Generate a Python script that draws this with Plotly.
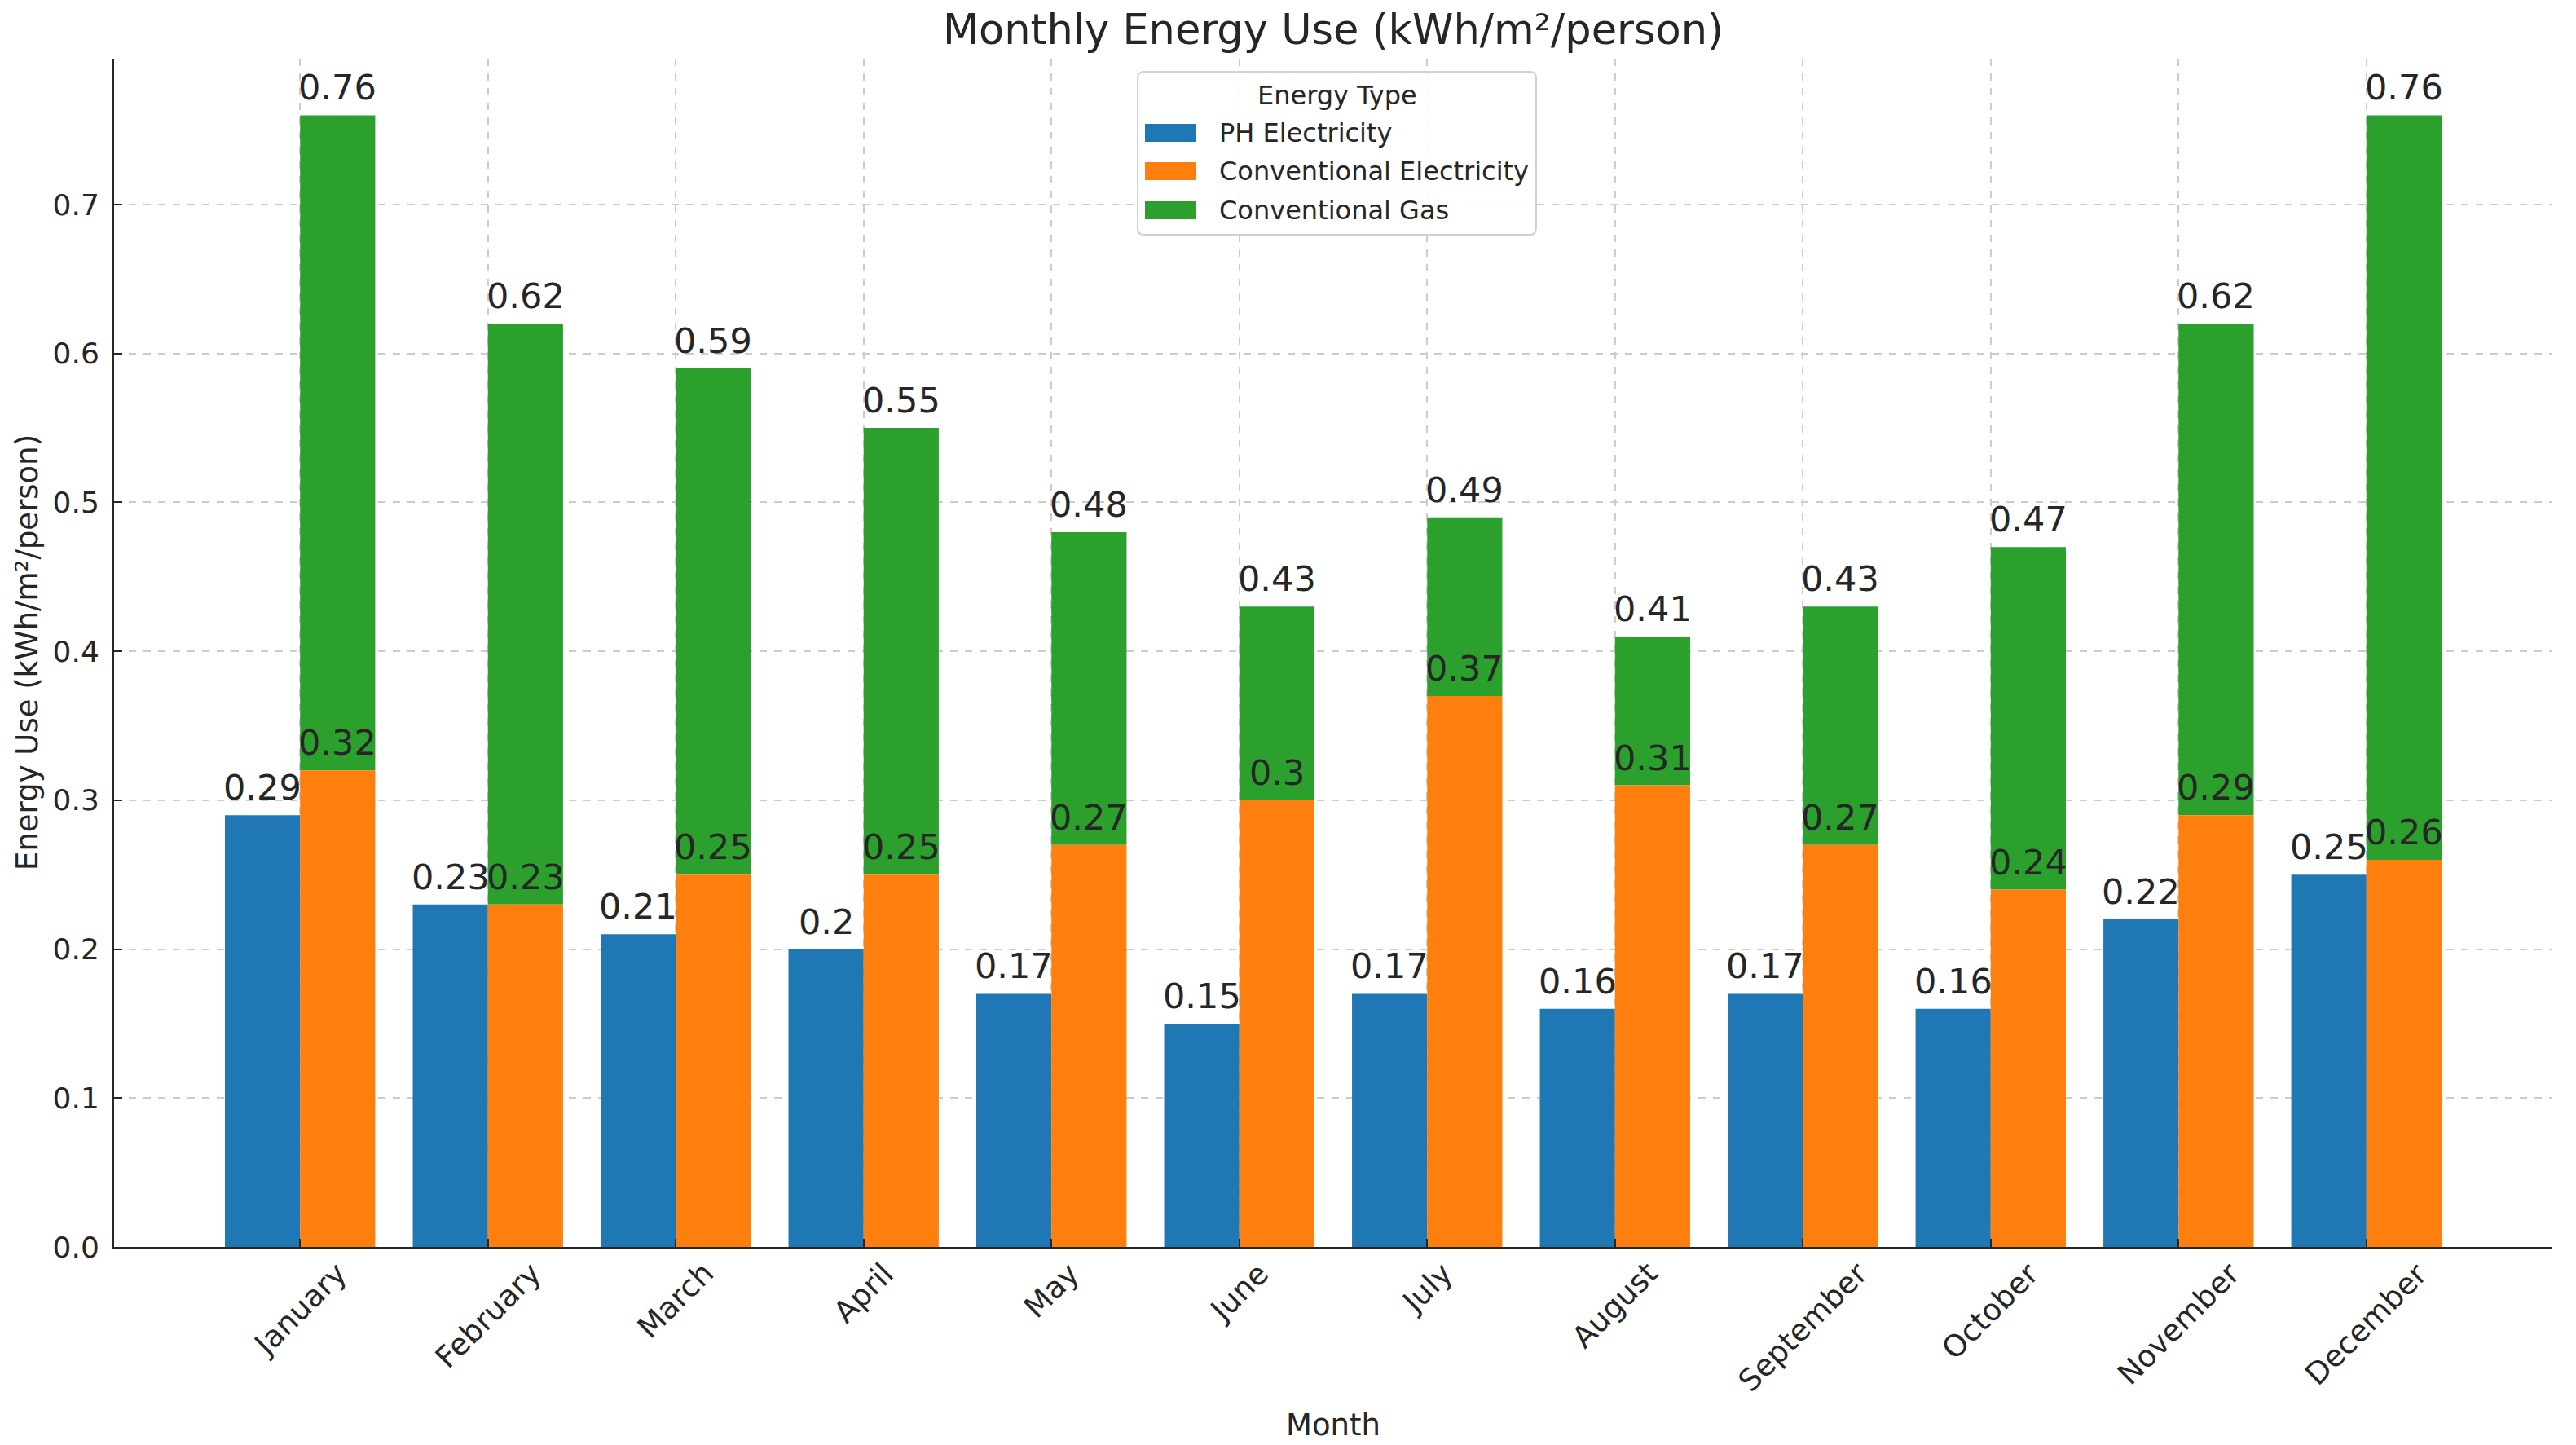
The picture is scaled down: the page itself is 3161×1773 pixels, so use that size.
import plotly.graph_objects as go

# ---------------- data ----------------
months = ["January", "February", "March", "April", "May", "June",
          "July", "August", "September", "October", "November", "December"]
ph_electricity = [0.29, 0.23, 0.21, 0.20, 0.17, 0.15, 0.17, 0.16, 0.17, 0.16, 0.22, 0.25]
conv_electricity = [0.32, 0.23, 0.25, 0.25, 0.27, 0.30, 0.37, 0.31, 0.27, 0.24, 0.29, 0.26]
conv_gas = [0.44, 0.39, 0.34, 0.30, 0.21, 0.13, 0.12, 0.10, 0.16, 0.23, 0.33, 0.50]
y_ticks = [0.0, 0.1, 0.2, 0.3, 0.4, 0.5, 0.6, 0.7]

series_names = ["PH Electricity", "Conventional Electricity", "Conventional Gas"]
colors = ["#1f77b4", "#ff7f0e", "#2ca02c"]

# ---------------- layout geometry ----------------
W, H = 3161, 1773
OFF = 8  # page offset of the figure (body margin)
ML, MT = 140 - OFF, 72 - OFF
MR = W - (3132 - OFF)
MB = H - (1530 - OFF)
PW, PH = W - ML - MR, H - MT - MB
X_RANGE = [-0.99, 11.99]
BAR_W = 0.4
HALF_BAR_PX = (BAR_W / 2) * PW / (X_RANGE[1] - X_RANGE[0])
FONT = "DejaVu Sans"
TXT = "#262626"


def fmt(v):
    return f"{round(v, 6):g}"


def px(x):  # page pixel -> paper x
    return (x - OFF - ML) / PW


def py(y):  # page pixel -> paper y
    return (MT + PH - (y - OFF)) / PH


fig = go.Figure()

gas_top = [e + g for e, g in zip(conv_electricity, conv_gas)]

fig.add_trace(go.Bar(
    x=months, y=ph_electricity, name=series_names[0], width=BAR_W, offset=-BAR_W,
    marker=dict(color=colors[0], line=dict(width=0)),
))
fig.add_trace(go.Bar(
    x=months, y=conv_gas, base=conv_electricity, name=series_names[2], width=BAR_W, offset=0,
    marker=dict(color=colors[2], line=dict(width=0)),
))
fig.add_trace(go.Bar(
    x=months, y=conv_electricity, name=series_names[1], width=BAR_W, offset=0,
    marker=dict(color=colors[1], line=dict(width=0)),
))

annotations = []
label_font = dict(size=43, color=TXT, family=FONT)
# value labels on the bar ends
for vals, shift in ((ph_electricity, -HALF_BAR_PX), (gas_top, HALF_BAR_PX),
                    (conv_electricity, HALF_BAR_PX)):
    for m, v in zip(months, vals):
        annotations.append(dict(
            x=m, xref="x", y=v, yref="y", xanchor="center", yanchor="bottom",
            xshift=shift, yshift=7, showarrow=False, text=fmt(v), font=label_font,
        ))

# month tick labels, rotated 45 degrees, centred under each tick
for m in months:
    annotations.append(dict(
        x=m, xref="x", y=0, yref="paper", xanchor="center", yanchor="top",
        yshift=-8, textangle=-45, showarrow=False, text=m,
        font=dict(size=37, color=TXT, family=FONT),
    ))
# axis titles
annotations.append(dict(
    x=0.5, xref="paper", y=0, yref="paper", xanchor="center", yanchor="middle",
    yshift=-218, showarrow=False, text="Month",
    font=dict(size=37, color=TXT, family=FONT),
))
annotations.append(dict(
    x=0, xref="paper", y=0.5, yref="paper", xanchor="center", yanchor="middle",
    xshift=-(140 - 33), textangle=-90, showarrow=False,
    text="Energy Use (kWh/m²/person)",
    font=dict(size=37, color=TXT, family=FONT),
))

# ---------------- legend (drawn to match the reference style) ----------------
LX0, LX1, LY0, LY1 = 1396, 1885, 88, 288
r = 8
rx, ry = r / PW, r / PH
x0, x1, y0, y1 = px(LX0), px(LX1), py(LY1), py(LY0)
path = (f"M{x0 + rx},{y0} L{x1 - rx},{y0} Q{x1},{y0} {x1},{y0 + ry} "
        f"L{x1},{y1 - ry} Q{x1},{y1} {x1 - rx},{y1} L{x0 + rx},{y1} "
        f"Q{x0},{y1} {x0},{y1 - ry} L{x0},{y0 + ry} Q{x0},{y0} {x0 + rx},{y0} Z")
shapes = [dict(type="path", path=path, xref="paper", yref="paper",
               fillcolor="rgba(255,255,255,0.9)", line=dict(color="#d0d0d0", width=2),
               layer="above")]
annotations.append(dict(
    x=px((LX0 + LX1) / 2), xref="paper", y=py(117), yref="paper",
    xanchor="center", yanchor="middle", showarrow=False, text="Energy Type",
    font=dict(size=32, color=TXT, family=FONT),
))
entry_y = [163, 210, 258]
for name, col, ey in zip(series_names, colors, entry_y):
    shapes.append(dict(type="rect", xref="paper", yref="paper",
                       x0=px(1405), x1=px(1467), y0=py(ey + 11), y1=py(ey - 11),
                       fillcolor=col, line=dict(width=0), layer="above"))
    annotations.append(dict(
        x=px(1494), xref="paper", y=py(ey), yref="paper",
        xanchor="left", yanchor="middle", showarrow=False, text=name,
        font=dict(size=32, color=TXT, family=FONT),
    ))

fig.update_layout(
    width=W, height=H, autosize=False,
    margin=dict(l=ML, r=MR, t=MT, b=MB, pad=0),
    barmode="overlay",
    plot_bgcolor="white", paper_bgcolor="white",
    font=dict(family=FONT, color=TXT),
    showlegend=False,
    title=dict(text="Monthly Energy Use (kWh/m²/person)", x=0.5, xref="paper",
               xanchor="center", y=1 - (36 - OFF) / H, yref="container", yanchor="middle",
               font=dict(size=51, color=TXT, family=FONT)),
    annotations=annotations,
    shapes=shapes,
)

fig.update_xaxes(
    type="category", range=X_RANGE, showgrid=True, gridcolor="#cccccc",
    griddash="dash", gridwidth=2, showline=True, linecolor="#262626", linewidth=3,
    ticks="inside", ticklen=10, tickwidth=2, tickcolor="#262626",
    showticklabels=False, zeroline=False,
)
fig.update_yaxes(
    range=[0, 0.798], tickvals=y_ticks, tickformat=".1f", showgrid=True,
    gridcolor="#cccccc", griddash="dash", gridwidth=2, showline=True,
    linecolor="#262626", linewidth=3, ticks="inside", ticklen=10, tickwidth=2,
    tickcolor="#262626", tickfont=dict(size=36, color=TXT, family=FONT),
    ticklabelstandoff=8, zeroline=False,
)

fig.write_html("out.html")
